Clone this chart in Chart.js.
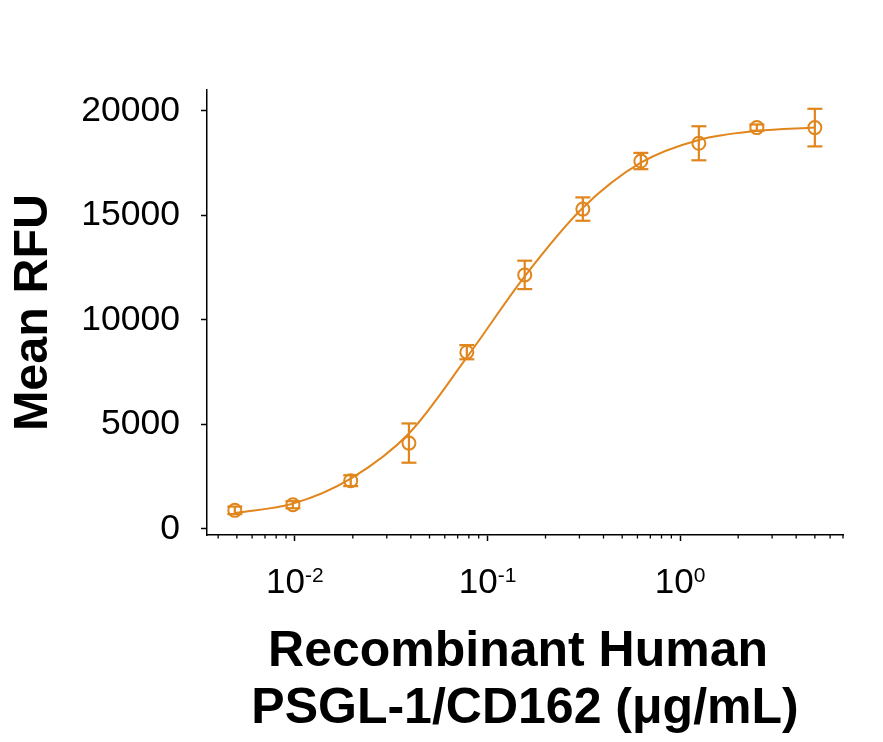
<!DOCTYPE html>
<html>
<head>
<meta charset="utf-8">
<script src="https://cdn.jsdelivr.net/npm/chart.js@4.4.1/dist/chart.umd.min.js"></script>
<style>
  html, body { margin: 0; padding: 0; background: #fff; }
  #wrap { width: 883px; height: 742px; position: relative; }
</style>
</head>
<body>
<div id="wrap"><canvas id="doseChart"></canvas></div>
<script>
// concentration (ug/mL), 2-fold serial dilution
const concentrations = [0.00488, 0.00977, 0.0195, 0.0391, 0.0781, 0.156, 0.3125, 0.625, 1.25, 2.5, 5];
// mean RFU at each concentration
const meanRfu = [880, 1150, 2300, 4100, 8450, 12150, 15300, 17600, 18450, 19200, 19200];
// error bar half-heights
const errRfu = [180, 170, 260, 940, 340, 680, 560, 390, 815, 150, 900];
// fitted curve at the same concentrations
const fitRfu = [750, 1200, 2400, 4560, 8200, 12080, 15360, 17520, 18610, 19040, 19200];

const yTicks = [0, 5000, 10000, 15000, 20000];
const xMajorTicks = [0.01, 0.1, 1];
const xMajorExponents = ['-2', '-1', '0'];
const xMinorMultipliers = [2, 3, 4, 5, 6, 7, 8, 9];

const orange = '#E0861C';
const fontFamily = "'Liberation Sans', Arial, sans-serif";

// minor + major tick values for the log axis
const xTickValues = [];
[0.001, 0.01, 0.1, 1].forEach(dec => {
    xTickValues.push({ value: dec, major: xMajorTicks.includes(dec) });
    xMinorMultipliers.forEach(m => xTickValues.push({ value: +(m * dec).toPrecision(3), major: false }));
});
const xTicks = xTickValues.filter(t => t.value >= 0.004 && t.value <= 7);

const markerData = concentrations.map((c, i) => ({ x: c, y: meanRfu[i] }));
const fitData = concentrations.map((c, i) => ({ x: c, y: fitRfu[i] }));
const errData = [];
concentrations.forEach((c, i) => {
    errData.push({ x: c, y: meanRfu[i] - errRfu[i] });
    errData.push({ x: c, y: meanRfu[i] + errRfu[i] });
    errData.push({ x: c, y: null });
});

// short minor ticks and "10^n" labels under the x axis
const logAxisDecor = {
    id: 'logAxisDecor',
    afterDraw(chart) {
        const xs = chart.scales.x;
        const ctx = chart.ctx;
        ctx.save();
        ctx.strokeStyle = '#000';
        ctx.lineWidth = 1.3;
        xs.ticks.forEach(t => {
            if (t.major) return;
            const px = xs.getPixelForValue(t.value);
            ctx.beginPath();
            ctx.moveTo(px, xs.top);
            ctx.lineTo(px, xs.top + 3.5);
            ctx.stroke();
        });

        ctx.fillStyle = '#000';
        ctx.textBaseline = 'alphabetic';
        ctx.textAlign = 'left';
        const baseFont = '35px ' + fontFamily;
        const expFont = '21px ' + fontFamily;
        xMajorTicks.forEach((v, i) => {
            const px = xs.getPixelForValue(v);
            ctx.font = baseFont;
            const wBase = ctx.measureText('10').width;
            ctx.font = expFont;
            const wExp = ctx.measureText(xMajorExponents[i]).width;
            const x0 = px - (wBase + wExp) / 2;
            ctx.font = baseFont;
            ctx.fillText('10', x0, xs.top + 58);
            ctx.font = expFont;
            ctx.fillText(xMajorExponents[i], x0 + wBase, xs.top + 47);
        });
        ctx.restore();
    }
};

new Chart(document.getElementById('doseChart'), {
    type: 'scatter',
    data: {
        datasets: [
            {
                data: markerData,
                pointStyle: 'circle',
                pointRadius: 6.5,
                pointBorderWidth: 2,
                pointBorderColor: orange,
                pointBackgroundColor: 'rgba(0,0,0,0)',
                showLine: false
            },
            {
                data: errData,
                showLine: true,
                spanGaps: false,
                borderColor: orange,
                borderWidth: 2.2,
                pointStyle: 'line',
                pointRadius: 7.5,
                pointBorderWidth: 2.2,
                pointBorderColor: orange
            },
            {
                data: fitData,
                showLine: true,
                borderColor: orange,
                borderWidth: 2,
                cubicInterpolationMode: 'monotone',
                pointRadius: 0
            }
        ]
    },
    options: {
        responsive: true,
        maintainAspectRatio: false,
        animation: false,
        layout: { padding: { left: 0, right: 40, top: 90, bottom: 0 } },
        plugins: {
            legend: { display: false },
            tooltip: { enabled: false }
        },
        scales: {
            x: {
                type: 'logarithmic',
                min: 0.0035,
                max: 7,
                afterBuildTicks: scale => { scale.ticks = xTicks.map(t => ({ ...t })); },
                afterFit: scale => { scale.height = 207; },
                border: { display: true, color: '#000', width: 1.5 },
                grid: {
                    drawOnChartArea: false,
                    drawTicks: true,
                    tickLength: 6,
                    tickWidth: 1.5,
                    tickColor: ctx => (ctx.tick && ctx.tick.major ? '#000' : 'rgba(0,0,0,0)')
                },
                ticks: {
                    autoSkip: false,
                    maxRotation: 0,
                    callback: () => ''
                },
                title: {
                    display: true,
                    text: ['Recombinant Human ', 'PSGL-1/CD162 (\u03BCg/mL)'],
                    color: '#000',
                    font: { family: fontFamily, size: 50, weight: 'bold', lineHeight: 1.14 },
                    padding: { top: 0, bottom: 4 }
                }
            },
            y: {
                min: -300,
                max: 21000,
                afterBuildTicks: scale => { scale.ticks = yTicks.map(v => ({ value: v })); },
                afterFit: scale => { scale.width = 207; },
                border: { display: true, color: '#000', width: 1.5 },
                grid: {
                    drawOnChartArea: false,
                    drawTicks: true,
                    tickLength: 6,
                    tickWidth: 1.5,
                    tickColor: '#000'
                },
                ticks: {
                    padding: 21,
                    color: '#000',
                    font: { family: fontFamily, size: 35.5 },
                    callback: value => String(value)
                },
                title: {
                    display: true,
                    text: 'Mean RFU',
                    color: '#000',
                    font: { family: fontFamily, size: 48.5, weight: 'bold', lineHeight: 1.15 },
                    padding: { top: 6, bottom: 0 }
                }
            }
        }
    },
    plugins: [logAxisDecor]
});
</script>
</body>
</html>
